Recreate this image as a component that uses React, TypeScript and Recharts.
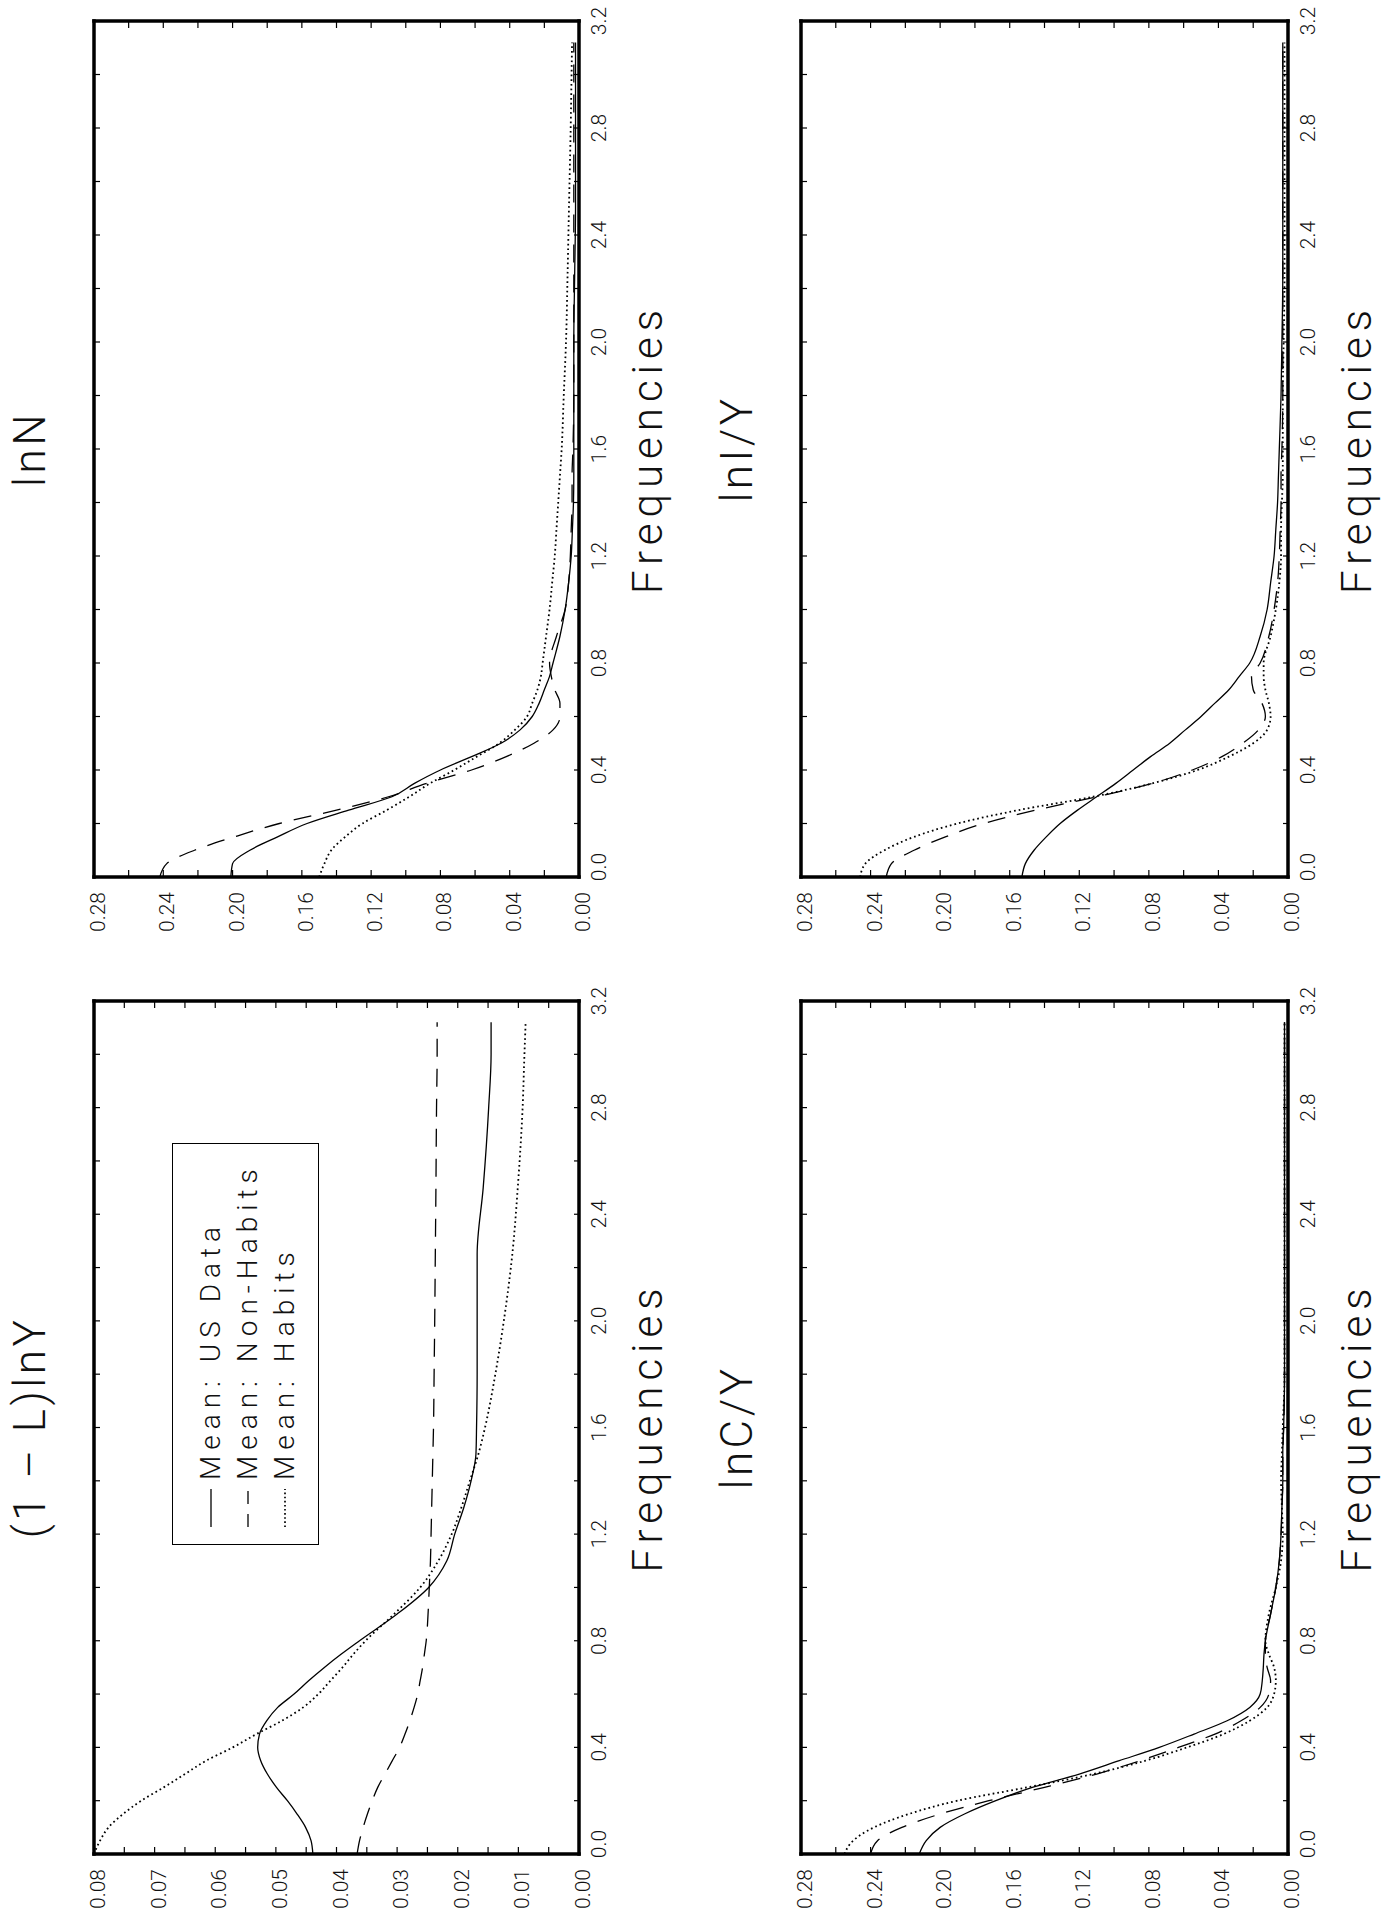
import React from "react";
import { Legend, Line, LineChart, XAxis, YAxis } from "recharts";

// frequency grid shared by every panel
const FREQ = [
  0, 0.05, 0.1, 0.15, 0.2, 0.25, 0.3, 0.35, 0.4, 0.45, 0.5, 0.55, 0.6, 0.65, 0.7, 0.75, 0.8, 0.9,
  1.0, 1.1, 1.2, 1.3, 1.4, 1.5, 1.6, 1.8, 2.0, 2.25, 2.5, 2.8, 3.0, 3.12,
];

const FREQ_TICKS = [0, 0.2, 0.4, 0.6, 0.8, 1.0, 1.2, 1.4, 1.6, 1.8, 2.0, 2.2, 2.4, 2.6, 2.8, 3.0, 3.2];
const SMALL_TICKS = [
  0, 0.005, 0.01, 0.015, 0.02, 0.025, 0.03, 0.035, 0.04, 0.045, 0.05, 0.055, 0.06, 0.065, 0.07, 0.075, 0.08,
];
const WIDE_TICKS = [0, 0.02, 0.04, 0.06, 0.08, 0.1, 0.12, 0.14, 0.16, 0.18, 0.2, 0.22, 0.24, 0.26, 0.28];

// (1-L)lnY
const LNY_US = [
  0.0439, 0.0442, 0.0451, 0.0465, 0.0481, 0.0499, 0.0514, 0.0525, 0.053, 0.0527, 0.0515, 0.0497, 0.047,
  0.0446, 0.042, 0.0392, 0.0362, 0.03, 0.0248, 0.0218, 0.0205, 0.019, 0.0178, 0.017, 0.0169, 0.0168, 0.0168,
  0.0168, 0.0158, 0.0149, 0.0145, 0.0145,
];
const LNY_NONHABITS = [
  0.0366, 0.0362, 0.0356, 0.0349, 0.0341, 0.0332, 0.032, 0.0308, 0.0296, 0.0287, 0.0279, 0.0272, 0.0266,
  0.0262, 0.0258, 0.0255, 0.0252, 0.0249, 0.0247, 0.0245, 0.0244, 0.0243, 0.0242, 0.0241, 0.024, 0.0239,
  0.0238, 0.0237, 0.0236, 0.0235, 0.0234, 0.0234,
];
const LNY_HABITS = [
  0.08, 0.079, 0.0776, 0.0752, 0.0722, 0.0685, 0.065, 0.0615, 0.0571, 0.0532, 0.049, 0.0455, 0.043, 0.041,
  0.039, 0.0372, 0.0352, 0.0305, 0.0262, 0.0232, 0.021, 0.0194, 0.018, 0.0166, 0.0155, 0.0138, 0.0124, 0.011,
  0.0101, 0.0093, 0.009, 0.0088,
];

// lnN
const LNN_US = [
  0.201, 0.2, 0.19, 0.174, 0.157, 0.133, 0.108, 0.095, 0.08, 0.062, 0.045, 0.034, 0.027, 0.023, 0.02, 0.017,
  0.015, 0.011, 0.008, 0.006, 0.0045, 0.0038, 0.0032, 0.003, 0.003, 0.003, 0.003, 0.0025, 0.002, 0.002, 0.002,
  0.002,
];
const LNN_NONHABITS = [
  0.242, 0.238, 0.222, 0.199, 0.173, 0.14, 0.11, 0.088, 0.062, 0.042, 0.026, 0.015, 0.011, 0.011, 0.014,
  0.016, 0.017, 0.013, 0.008, 0.006, 0.005, 0.0045, 0.004, 0.004, 0.0035, 0.003, 0.003, 0.003, 0.003, 0.003,
  0.003, 0.003,
];
const LNN_HABITS = [
  0.15, 0.147, 0.143, 0.135, 0.125, 0.111, 0.098, 0.086, 0.072, 0.059, 0.046, 0.037, 0.03, 0.027, 0.024,
  0.022, 0.021, 0.019, 0.017, 0.0155, 0.014, 0.013, 0.012, 0.011, 0.01, 0.0088, 0.0075, 0.0066, 0.0058,
  0.0048, 0.0043, 0.004,
];

// lnC/Y
const LNC_US = [
  0.212, 0.208, 0.2, 0.186, 0.168, 0.147, 0.12, 0.097, 0.074, 0.054, 0.035, 0.022, 0.016, 0.0148, 0.0142,
  0.0138, 0.013, 0.01, 0.007, 0.005, 0.004, 0.0035, 0.003, 0.003, 0.0025, 0.002, 0.002, 0.002, 0.002, 0.002,
  0.002, 0.002,
];
const LNC_NONHABITS = [
  0.24, 0.236, 0.222, 0.2, 0.172, 0.14, 0.11, 0.085, 0.063, 0.042, 0.027, 0.016, 0.011, 0.01, 0.012, 0.013,
  0.013, 0.01, 0.007, 0.005, 0.004, 0.0035, 0.003, 0.003, 0.0025, 0.002, 0.002, 0.002, 0.002, 0.002, 0.002,
  0.002,
];
const LNC_HABITS = [
  0.255, 0.25, 0.238, 0.218, 0.19, 0.15, 0.112, 0.082, 0.058, 0.037, 0.022, 0.012, 0.008, 0.007, 0.008, 0.011,
  0.013, 0.011, 0.007, 0.004, 0.003, 0.0035, 0.004, 0.0035, 0.003, 0.002, 0.002, 0.002, 0.002, 0.002, 0.002,
  0.002,
];

// lnI/Y
const LNI_US = [
  0.153, 0.151, 0.146, 0.139, 0.131, 0.121, 0.11, 0.099, 0.089, 0.079, 0.068, 0.059, 0.05, 0.042, 0.034,
  0.028, 0.022, 0.016, 0.012, 0.01, 0.008, 0.007, 0.006, 0.0055, 0.005, 0.004, 0.0035, 0.003, 0.003, 0.003,
  0.003, 0.003,
];
const LNI_NONHABITS = [
  0.231, 0.228, 0.215, 0.197, 0.175, 0.145, 0.11, 0.078, 0.055, 0.038, 0.026, 0.017, 0.013, 0.015, 0.02, 0.021,
  0.016, 0.011, 0.008, 0.006, 0.005, 0.0045, 0.004, 0.004, 0.0035, 0.003, 0.003, 0.003, 0.003, 0.003, 0.003,
  0.003,
];
const LNI_HABITS = [
  0.246, 0.243, 0.232, 0.215, 0.19, 0.155, 0.112, 0.078, 0.052, 0.034, 0.02, 0.012, 0.01, 0.011, 0.013, 0.014,
  0.014, 0.01, 0.007, 0.005, 0.004, 0.004, 0.0035, 0.003, 0.003, 0.003, 0.0025, 0.002, 0.002, 0.002, 0.002,
  0.002,
];

const SERIES_NAMES = ["Mean: US Data", "Mean: Non-Habits", "Mean: Habits"];
const SERIES_DASH = [undefined, "18 12", "1.7 3"];
const LEGEND_SAMPLE_DASH = [undefined, "13 10", "1.6 2.5"];

const FONT = "Roboto, 'DejaVu Sans', sans-serif";
const INK = "#111";
const BORDER = { stroke: "#000", strokeWidth: 3.5, strokeLinecap: "square" as const };

// space reserved around each plot area by the axes
const AXIS_LEFT = 60;
const AXIS_RIGHT = 30;
const AXIS_TOP = 90;
const AXIS_BOTTOM = 100;

function FreqTick({ x, y, payload, index }: any) {
  return (
    <g>
      <line x1={x} y1={y} x2={x} y2={y - 5} stroke="#000" strokeWidth={1.2} />
      {index % 2 === 0 ? (
        <text
          x={index === 0 ? x + 10 : x}
          y={y + 27}
          textAnchor="middle"
          fontSize={21}
          fontFamily={FONT}
          fontWeight={300}
          fill={INK}
        >
          {Number(payload.value).toFixed(1)}
        </text>
      ) : null}
    </g>
  );
}

function TopTick({ x, y }: any) {
  return <line x1={x} y1={y} x2={x} y2={y + 6} stroke="#000" strokeWidth={1.2} />;
}

function ValueTick({ x, y, payload, index }: any) {
  return (
    <g>
      <line x1={x} y1={y} x2={x + 7} y2={y} stroke="#000" strokeWidth={1.2} />
      {index % 2 === 0 ? (
        <text x={x - 15} y={y + 11} textAnchor="end" fontSize={21} fontFamily={FONT} fontWeight={300} fill={INK}>
          {Number(payload.value).toFixed(2)}
        </text>
      ) : null}
    </g>
  );
}

function RightTick({ x, y }: any) {
  return <line x1={x} y1={y} x2={x - 7} y2={y} stroke="#000" strokeWidth={1.2} />;
}

function LegendBox() {
  return (
    <div
      style={{
        width: 402,
        height: 147,
        boxSizing: "border-box",
        border: "1.5px solid #000",
        background: "#fff",
        paddingTop: 19,
        fontFamily: FONT,
        fontWeight: 300,
        color: INK,
      }}
    >
      {SERIES_NAMES.map((name, i) => (
        <div key={name} style={{ display: "flex", alignItems: "center", height: 37, paddingLeft: 17 }}>
          <svg width={38} height={4}>
            <line
              x1={0}
              y1={2}
              x2={38}
              y2={2}
              stroke="#000"
              strokeWidth={i === 2 ? 1.7 : 1.3}
              strokeDasharray={LEGEND_SAMPLE_DASH[i]}
            />
          </svg>
          <span style={{ marginLeft: 9, fontSize: 28, letterSpacing: 6, lineHeight: "28px", whiteSpace: "nowrap" }}>
            {name}
          </span>
        </div>
      ))}
    </div>
  );
}

type PanelProps = {
  title: string;
  left: number;
  top: number;
  plotW: number;
  plotH: number;
  yMax: number;
  yTicks: number[];
  us: number[];
  nonHabits: number[];
  habits: number[];
  legend?: boolean;
};

function Panel({ title, left, top, plotW, plotH, yMax, yTicks, us, nonHabits, habits, legend }: PanelProps) {
  const rows = FREQ.map((f, i) => ({ f, us: us[i], nonHabits: nonHabits[i], habits: habits[i] }));
  const width = AXIS_LEFT + plotW + AXIS_RIGHT;
  const height = AXIS_TOP + plotH + AXIS_BOTTOM;
  const cx = AXIS_LEFT + plotW / 2;
  const keys = ["us", "nonHabits", "habits"];

  return (
    <div style={{ position: "absolute", left: left - AXIS_LEFT, top: top - AXIS_TOP }}>
      <LineChart width={width} height={height} data={rows} margin={{ top: 0, right: 0, bottom: 0, left: 0 }}>
        <XAxis
          xAxisId="bottom"
          dataKey="f"
          type="number"
          orientation="bottom"
          domain={[0, 3.2]}
          allowDataOverflow
          ticks={FREQ_TICKS}
          interval={0}
          height={AXIS_BOTTOM}
          tickSize={0}
          tickMargin={0}
          tickLine={false}
          axisLine={BORDER}
          tick={(props: any) => <FreqTick {...props} />}
          label={{
            content: () => (
              <text
                x={cx}
                y={AXIS_TOP + plotH + 83}
                textAnchor="middle"
                fontSize={42}
                letterSpacing={6}
                fontFamily={FONT}
                fontWeight={300}
                fill={INK}
              >
                Frequencies
              </text>
            ),
          }}
        />
        <XAxis
          xAxisId="top"
          dataKey="f"
          type="number"
          orientation="top"
          domain={[0, 3.2]}
          allowDataOverflow
          ticks={FREQ_TICKS}
          interval={0}
          height={AXIS_TOP}
          tickSize={0}
          tickMargin={0}
          tickLine={false}
          axisLine={BORDER}
          tick={(props: any) => <TopTick {...props} />}
          label={{
            content: () => (
              <text
                x={cx}
                y={AXIS_TOP - 49}
                textAnchor="middle"
                fontSize={44}
                letterSpacing={3.5}
                fontFamily={FONT}
                fontWeight={300}
                fill={INK}
              >
                {title}
              </text>
            ),
          }}
        />
        <YAxis
          yAxisId="left"
          type="number"
          orientation="left"
          domain={[0, yMax]}
          allowDataOverflow
          ticks={yTicks}
          interval={0}
          width={AXIS_LEFT}
          tickSize={0}
          tickMargin={0}
          tickLine={false}
          axisLine={BORDER}
          tick={(props: any) => <ValueTick {...props} />}
        />
        <YAxis
          yAxisId="right"
          type="number"
          orientation="right"
          domain={[0, yMax]}
          allowDataOverflow
          ticks={yTicks}
          interval={0}
          width={AXIS_RIGHT}
          tickSize={0}
          tickMargin={0}
          tickLine={false}
          axisLine={BORDER}
          tick={(props: any) => <RightTick {...props} />}
        />
        {legend ? (
          <Legend
            layout="vertical"
            align="center"
            verticalAlign="middle"
            content={() => <LegendBox />}
            wrapperStyle={{ left: 369, top: 168, width: 402, height: 147 }}
          />
        ) : null}
        {keys.map((key, i) => (
          <Line
            key={key}
            xAxisId="bottom"
            yAxisId="left"
            type="monotone"
            dataKey={key}
            name={SERIES_NAMES[i]}
            stroke="#000"
            strokeWidth={i === 2 ? 1.8 : 1.3}
            strokeDasharray={SERIES_DASH[i]}
            dot={false}
            activeDot={false}
            isAnimationActive={false}
          />
        ))}
      </LineChart>
    </div>
  );
}

export default function App() {
  // the figure is laid out landscape (1921 x 1395) and turned a quarter counter-clockwise onto the page
  return (
    <div style={{ position: "absolute", left: 0, top: 0, width: 1395, height: 1921, overflow: "hidden", background: "#fff" }}>
      <div
        style={{
          position: "absolute",
          left: 0,
          top: 0,
          width: 1921,
          height: 1395,
          transformOrigin: "0 0",
          transform: "translate(0px, 1921px) rotate(-90deg)",
        }}
      >
        <Panel
          title="(1 – L)lnY"
          left={67}
          top={94}
          plotW={853}
          plotH={485}
          yMax={0.08}
          yTicks={SMALL_TICKS}
          us={LNY_US}
          nonHabits={LNY_NONHABITS}
          habits={LNY_HABITS}
          legend
        />
        <Panel
          title="lnN"
          left={1044}
          top={94}
          plotW={856}
          plotH={485}
          yMax={0.28}
          yTicks={WIDE_TICKS}
          us={LNN_US}
          nonHabits={LNN_NONHABITS}
          habits={LNN_HABITS}
        />
        <Panel
          title="lnC/Y"
          left={67}
          top={801}
          plotW={853}
          plotH={487}
          yMax={0.28}
          yTicks={WIDE_TICKS}
          us={LNC_US}
          nonHabits={LNC_NONHABITS}
          habits={LNC_HABITS}
        />
        <Panel
          title="lnI/Y"
          left={1044}
          top={801}
          plotW={856}
          plotH={487}
          yMax={0.28}
          yTicks={WIDE_TICKS}
          us={LNI_US}
          nonHabits={LNI_NONHABITS}
          habits={LNI_HABITS}
        />
      </div>
    </div>
  );
}
